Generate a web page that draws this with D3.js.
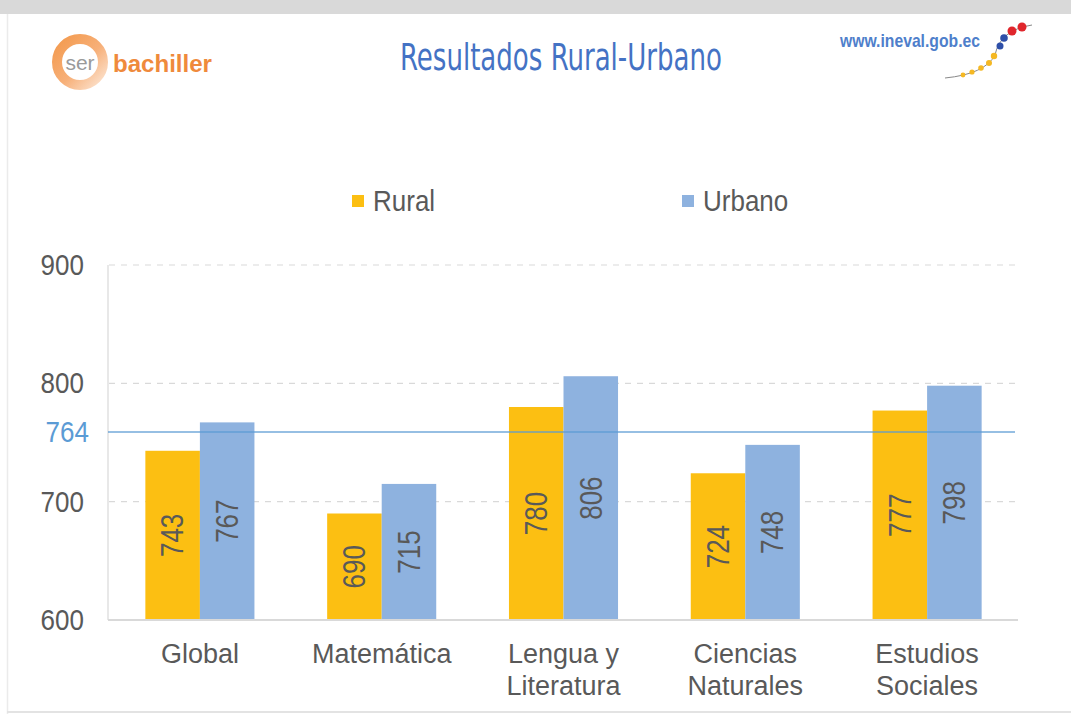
<!DOCTYPE html>
<html>
<head>
<meta charset="utf-8">
<script src="https://cdn.jsdelivr.net/npm/d3@7"></script>
<style>
    html, body { margin: 0; padding: 0; background: #fff; }
    svg { display: block; }
</style>
</head>
<body>
<svg id="chart" width="1071" height="714"></svg>
<script>
const categories = [['Global'], ['Matemática'], ['Lengua y', 'Literatura'], ['Ciencias', 'Naturales'], ['Estudios', 'Sociales']];
const rural = [743, 690, 780, 724, 777];
const urbano = [767, 715, 806, 748, 798];
const seriesNames = ['Rural', 'Urbano'];
const yTicks = [600, 700, 800, 900];
const promedio = 764;

const colors = { Rural: '#FCBF12', Urbano: '#8EB2DF' };
const textGray = '#595959';
const labelFont = '"Liberation Sans", Arial, sans-serif';

const width = 1071;
const height = 714;
const plot = { left: 109, right: 1018, top: 265, bottom: 620 };

const svg = d3.select('#chart');

// frame
svg.append('rect').attr('x', 0).attr('y', 0).attr('width', width).attr('height', height).attr('fill', '#fff');
svg.append('rect').attr('x', 0).attr('y', 0).attr('width', width).attr('height', 14).attr('fill', '#d9d9d9');
svg.append('line').attr('x1', 7.5).attr('x2', 7.5).attr('y1', 14).attr('y2', height)
    .attr('stroke', '#ebebeb').attr('stroke-width', 1.5);
svg.append('line').attr('x1', 7).attr('x2', width).attr('y1', 712).attr('y2', 712)
    .attr('stroke', '#e3e3e3').attr('stroke-width', 2);

// ser bachiller logo
const defs = svg.append('defs');
const grad = defs.append('linearGradient').attr('id', 'ringGrad')
    .attr('x1', '0').attr('y1', '0').attr('x2', '1').attr('y2', '1');
grad.append('stop').attr('offset', '0%').attr('stop-color', '#F39A4E');
grad.append('stop').attr('offset', '55%').attr('stop-color', '#F7B079');
grad.append('stop').attr('offset', '100%').attr('stop-color', '#FCE3CF');
svg.append('circle').attr('cx', 80).attr('cy', 62).attr('r', 23)
    .attr('fill', 'none').attr('stroke', 'url(#ringGrad)').attr('stroke-width', 10);
svg.append('text').attr('x', 80).attr('y', 70).attr('text-anchor', 'middle')
    .attr('font-family', labelFont).attr('font-size', 21)
    .attr('fill', '#9a9a9a').text('ser');
svg.append('text').attr('x', 113).attr('y', 72)
    .attr('font-family', labelFont).attr('font-size', 23)
    .attr('font-weight', 'bold').attr('fill', '#EF8A3C')
    .attr('textLength', 99).attr('lengthAdjust', 'spacingAndGlyphs').text('bachiller');

// ineval logo
svg.append('text').attr('x', 840).attr('y', 47)
    .attr('font-family', labelFont).attr('font-size', 19).attr('font-weight', 'bold')
    .attr('fill', '#4F7FCB').attr('textLength', 140).attr('lengthAdjust', 'spacingAndGlyphs')
    .text('www.ineval.gob.ec');
const logoDots = [
    [1022, 27, '#E0262C', 4.5], [1012, 31, '#E0262C', 4.5],
    [1004, 38, '#2E4FA8', 3.8], [1000, 46, '#2E4FA8', 3.5],
    [994, 56, '#F5B823', 3.2], [989, 63, '#F5B823', 3], [981, 68, '#F5B823', 2.8],
    [972, 72, '#F5B823', 2.6], [963, 75, '#F5B823', 2.4]
];
svg.append('path').attr('d', 'M1032,25 Q1000,30 995,55 Q985,74 945,78')
    .attr('fill', 'none').attr('stroke', '#888').attr('stroke-width', 1);
svg.selectAll('circle.logo-dot').data(logoDots).enter().append('circle')
    .attr('class', 'logo-dot')
    .attr('cx', d => d[0]).attr('cy', d => d[1]).attr('r', d => d[3]).attr('fill', d => d[2]);

// title
svg.append('text').attr('x', 400).attr('y', 70)
    .attr('font-family', '"DejaVu Sans Condensed", "Liberation Sans", sans-serif').attr('font-size', 38)
    .attr('fill', '#4472C4').attr('textLength', 322).attr('lengthAdjust', 'spacingAndGlyphs')
    .text('Resultados Rural-Urbano');

// scales
const x = d3.scaleBand()
    .domain(d3.range(categories.length))
    .range([plot.left, plot.right])
    .paddingInner(0.4)
    .paddingOuter(0.2);

const xSeries = d3.scaleBand()
    .domain(seriesNames)
    .range([0, x.bandwidth()]);

const y = d3.scaleLinear()
    .domain([600, 900])
    .range([plot.bottom, plot.top]);

// gridlines
svg.append('g').selectAll('line').data(yTicks.filter(t => t > 600)).enter().append('line')
    .attr('x1', plot.left).attr('x2', 1015)
    .attr('y1', d => y(d)).attr('y2', d => y(d))
    .attr('stroke', '#d9d9d9').attr('stroke-width', 1.2).attr('stroke-dasharray', '6,6');

// left axis line
svg.append('line').attr('x1', 108).attr('x2', 108).attr('y1', plot.top).attr('y2', plot.bottom)
    .attr('stroke', '#d9d9d9').attr('stroke-width', 1.2);

// y axis labels (narrow, tall look of the original)
svg.append('g').selectAll('text').data(yTicks).enter().append('text')
    .attr('transform', d => `translate(84,${y(d)}) scale(1,1.1)`)
    .attr('text-anchor', 'end').attr('dy', '0.35em')
    .attr('font-family', labelFont).attr('font-size', 26).attr('fill', textGray)
    .text(d => d);

// bars
const rows = categories.map((c, i) => ({ index: i, Rural: rural[i], Urbano: urbano[i] }));
const groups = svg.append('g').selectAll('g').data(rows).enter().append('g')
    .attr('transform', d => `translate(${x(d.index)},0)`);

groups.selectAll('rect')
    .data(d => seriesNames.map(name => ({ name, value: d[name] })))
    .enter().append('rect')
    .attr('x', d => xSeries(d.name))
    .attr('width', xSeries.bandwidth())
    .attr('y', d => y(d.value))
    .attr('height', d => y(600) - y(d.value))
    .attr('fill', d => colors[d.name]);

groups.selectAll('text')
    .data(d => seriesNames.map(name => ({ name, value: d[name] })))
    .enter().append('text')
    .attr('transform', d => {
        const cx = xSeries(d.name) + xSeries.bandwidth() / 2;
        const cy = (y(d.value) + y(600)) / 2;
        return `translate(${cx},${cy}) rotate(-90) scale(1,1.18)`;
    })
    .attr('text-anchor', 'middle')
    .attr('dy', '0.35em')
    .attr('font-family', labelFont).attr('font-size', 26).attr('fill', textGray)
    .text(d => d.value);

// baseline
svg.append('line').attr('x1', 108).attr('x2', plot.right).attr('y1', y(600)).attr('y2', y(600))
    .attr('stroke', '#d9d9d9').attr('stroke-width', 2);

// average line
svg.append('line').attr('x1', 108).attr('x2', 1015)
    .attr('y1', y(promedio) + 6).attr('y2', y(promedio) + 6)
    .attr('stroke', '#5B9BD5').attr('stroke-width', 1.5).attr('opacity', 0.85);
svg.append('text').attr('transform', `translate(89,${y(promedio) + 6}) scale(1,1.1)`)
    .attr('dy', '0.35em').attr('text-anchor', 'end')
    .attr('font-family', labelFont).attr('font-size', 26).attr('fill', '#5B9BD5')
    .text(promedio);

// x labels, one text per line
const xLabelLines = [];
categories.forEach((lines, i) => {
    lines.forEach((line, j) => xLabelLines.push({ index: i, line: j, text: line }));
});
svg.append('g').selectAll('text').data(xLabelLines).enter().append('text')
    .attr('x', d => x(d.index) + x.bandwidth() / 2)
    .attr('y', d => 663 + d.line * 32)
    .attr('text-anchor', 'middle')
    .attr('font-family', labelFont).attr('font-size', 27).attr('fill', textGray)
    .text(d => d.text);

// legend
const legendItems = [{ name: 'Rural', x: 352 }, { name: 'Urbano', x: 682 }];
const legend = svg.append('g').selectAll('g').data(legendItems).enter().append('g')
    .attr('transform', d => `translate(${d.x},195)`);
legend.append('rect').attr('width', 12).attr('height', 12).attr('fill', d => colors[d.name]);
legend.append('text').attr('transform', 'translate(21,6) scale(1,1.1)').attr('dy', '0.35em')
    .attr('font-family', labelFont).attr('font-size', 26).attr('fill', textGray)
    .text(d => d.name);
</script>
</body>
</html>
